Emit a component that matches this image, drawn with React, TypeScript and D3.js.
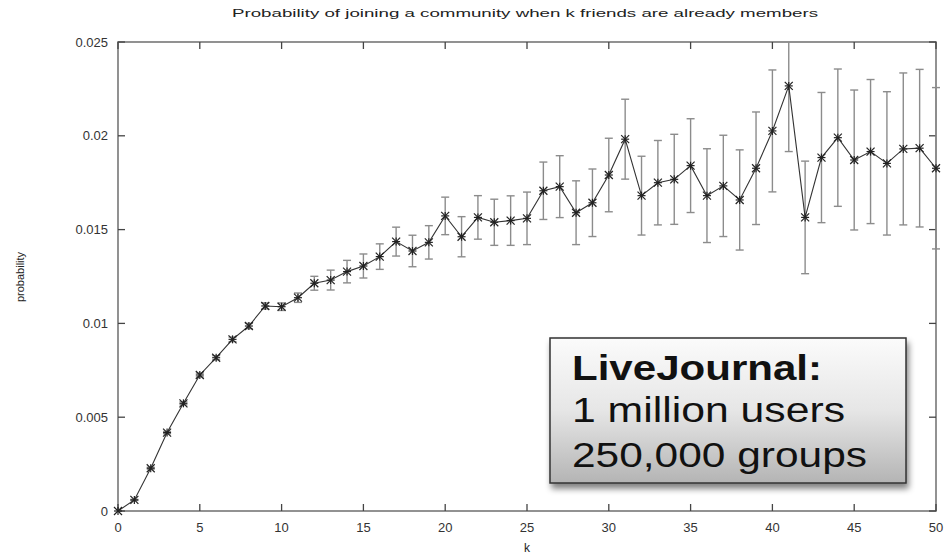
import React from "react";
import * as d3 from "d3";

const ks: number[] = d3.range(0, 51);
const probs: number[] = [
  0, 0.00059, 0.00228, 0.00418, 0.00574, 0.00725, 0.00817, 0.00915, 0.00986, 0.01093,
  0.01089, 0.01137, 0.01214, 0.01231, 0.01276, 0.01306, 0.01356, 0.01436, 0.01386, 0.01432,
  0.01573, 0.01462, 0.01565, 0.01539, 0.01548, 0.0156, 0.01707, 0.01729, 0.0159, 0.01643,
  0.01791, 0.01982, 0.01681, 0.0175, 0.01768, 0.01841, 0.01681, 0.01733, 0.01658, 0.01827,
  0.02026, 0.02266, 0.01565, 0.01884, 0.0199, 0.01871, 0.01916, 0.01853, 0.0193, 0.01934,
  0.01827,
];
const errs: number[] = [
  0, 0.00003, 0.00005, 0.00006, 0.00008, 0.0001, 0.00011, 0.00012, 0.00014, 0.00016,
  0.0002, 0.00025, 0.00037, 0.00053, 0.0006, 0.00064, 0.00068, 0.00077, 0.00084, 0.00089,
  0.001, 0.00107, 0.00116, 0.00123, 0.00132, 0.0014, 0.00153, 0.00165, 0.0017, 0.0018,
  0.00196, 0.00213, 0.0021, 0.00225, 0.0024, 0.0025, 0.0025, 0.0027, 0.00267, 0.003,
  0.00325, 0.0035, 0.003, 0.00347, 0.00366, 0.00373, 0.00384, 0.00382, 0.00405, 0.0042,
  0.0043,
];
const xTicks: number[] = [0, 5, 10, 15, 20, 25, 30, 35, 40, 45, 50];
const yTicks: number[] = [0, 0.005, 0.01, 0.015, 0.02, 0.025];
const yTickLabels: string[] = ["0", "0.005", "0.01", "0.015", "0.02", "0.025"];
const title = "Probability of joining a community when k friends are already members";
const xLabel = "k";
const yLabel = "probability";
const boxLines: string[] = ["LiveJournal:", "1 million users", "250,000 groups"];

const W = 945;
const H = 558;
const L = 118;
const R = 936;
const T = 42;
const B = 511;

export default function App() {
  const x = d3.scaleLinear().domain([0, 50]).range([L, R]);
  const y = d3.scaleLinear().domain([0, 0.025]).range([B, T]);
  const cy = (v: number) => Math.max(T, Math.min(B, y(v)));
  const line = d3
    .line<number>()
    .x((_, i) => x(ks[i]))
    .y((d) => y(d));
  const font = "'Liberation Sans', Arial, sans-serif";
  const tickLen = 7;
  const ms = 4;

  return (
    <svg
      width={W}
      height={H}
      style={{ position: "absolute", left: 0, top: 0, background: "#fff" }}
      fontFamily={font}
    >
      <defs>
        <linearGradient id="boxGrad" x1="0" y1="0" x2="0" y2="1">
          <stop offset="0" stopColor="#fbfbfb" />
          <stop offset="0.5" stopColor="#e6e6e6" />
          <stop offset="1" stopColor="#b4b4b4" />
        </linearGradient>
        <filter id="shadow" x="-10%" y="-10%" width="130%" height="140%">
          <feGaussianBlur in="SourceAlpha" stdDeviation="3" />
          <feOffset dx="2" dy="5" result="ob" />
          <feComponentTransfer>
            <feFuncA type="linear" slope="0.5" />
          </feComponentTransfer>
          <feMerge>
            <feMergeNode />
            <feMergeNode in="SourceGraphic" />
          </feMerge>
        </filter>
        <clipPath id="plotClip">
          <rect x={L - 6} y={T} width={R - L + 12} height={B - T + 6} />
        </clipPath>
      </defs>

      {/* title */}
      <text x={525} y={17} textAnchor="middle" fontSize={11.5} fill="#222" textLength={586} lengthAdjust="spacingAndGlyphs">
        {title}
      </text>

      {/* frame */}
      <rect x={L} y={T} width={R - L} height={B - T} fill="none" stroke="#777" strokeWidth={1.6} />

      {/* y ticks */}
      {yTicks.map((t, i) => (
        <g key={"y" + i}>
          <line x1={L} x2={L + tickLen} y1={y(t)} y2={y(t)} stroke="#444" strokeWidth={1.3} />
          <line x1={R} x2={R - tickLen} y1={y(t)} y2={y(t)} stroke="#444" strokeWidth={1.3} />
          <text x={108} y={y(t) + 4.5} textAnchor="end" fontSize={13} fill="#333">
            {yTickLabels[i]}
          </text>
        </g>
      ))}

      {/* x ticks */}
      {xTicks.map((t, i) => (
        <g key={"x" + i}>
          <line x1={x(t)} x2={x(t)} y1={B} y2={B - tickLen} stroke="#444" strokeWidth={1.3} />
          <line x1={x(t)} x2={x(t)} y1={T} y2={T + tickLen} stroke="#444" strokeWidth={1.3} />
          <text x={x(t)} y={532} textAnchor="middle" fontSize={13} fill="#333">
            {String(t)}
          </text>
        </g>
      ))}

      {/* axis labels */}
      <text x={527} y={552} textAnchor="middle" fontSize={12} fill="#222">
        {xLabel}
      </text>
      <text
        transform={`translate(24, 277) rotate(-90)`}
        textAnchor="middle"
        fontSize={11}
        fill="#222"
      >
        {yLabel}
      </text>

      <g clipPath="url(#plotClip)">
        {/* error bars */}
        {probs.map((p, i) => {
          const e = errs[i];
          if (e <= 0) return null;
          const cx = x(ks[i]);
          const y0 = cy(p - e);
          const y1 = cy(p + e);
          return (
            <g key={"e" + i} stroke="#8c8c8c" strokeWidth={1.4}>
              <line x1={cx} x2={cx} y1={y0} y2={y1} />
              {p - e >= 0 && <line x1={cx - 4} x2={cx + 4} y1={y0} y2={y0} />}
              {p + e <= 0.025 && <line x1={cx - 4} x2={cx + 4} y1={y1} y2={y1} />}
            </g>
          );
        })}

        {/* line */}
        <path d={line(probs) || ""} fill="none" stroke="#333" strokeWidth={1.1} />

        {/* markers */}
        {probs.map((p, i) => {
          const cx = x(ks[i]);
          const py = y(p);
          return (
            <g key={"m" + i} stroke="#222" strokeWidth={1.2}>
              <line x1={cx - ms} x2={cx + ms} y1={py - ms} y2={py + ms} />
              <line x1={cx - ms} x2={cx + ms} y1={py + ms} y2={py - ms} />
              <line x1={cx - ms} x2={cx + ms} y1={py} y2={py} />
              <line x1={cx} x2={cx} y1={py - ms} y2={py + ms} />
            </g>
          );
        })}
      </g>

      {/* annotation box */}
      <g filter="url(#shadow)">
        <rect x={550} y={338} width={356} height={145} fill="url(#boxGrad)" stroke="#333" strokeWidth={1.5} />
      </g>
      <text x={572} y={380} fontSize={35} fontWeight="bold" fill="#111" textLength={250} lengthAdjust="spacingAndGlyphs">
        {boxLines[0]}
      </text>
      <text x={572} y={422} fontSize={35} fill="#111" textLength={273} lengthAdjust="spacingAndGlyphs">
        {boxLines[1]}
      </text>
      <text x={572} y={467} fontSize={35} fill="#111" textLength={295} lengthAdjust="spacingAndGlyphs">
        {boxLines[2]}
      </text>
    </svg>
  );
}
